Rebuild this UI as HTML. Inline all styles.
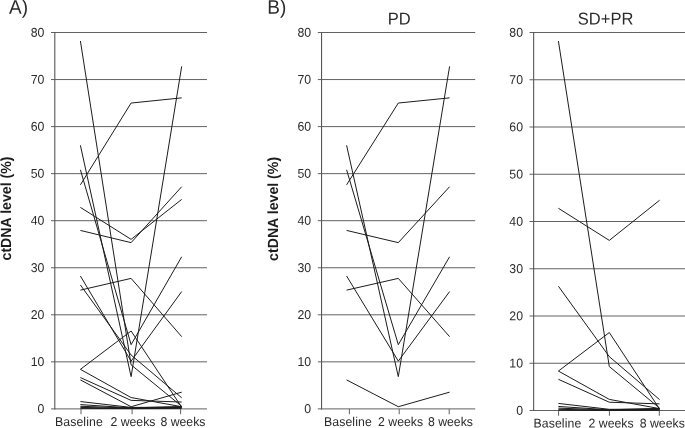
<!DOCTYPE html>
<html lang="en">
<head>
<meta charset="utf-8">
<title>ctDNA level</title>
<style>
html,body{margin:0;padding:0;background:#fff;}
body{width:685px;height:428px;overflow:hidden;}
svg{display:block;font-family:"Liberation Sans",Arial,Helvetica,sans-serif;will-change:transform;transform:translateZ(0);text-rendering:geometricPrecision;}
</style>
</head>
<body>
<svg width="685" height="428" viewBox="0 0 685 428">
<rect x="0" y="0" width="685" height="428" fill="#ffffff"/>
<line x1="51.00" y1="32.50" x2="207.00" y2="32.50" stroke="#626262" stroke-width="1"/>
<text transform="translate(44.40,36.65) rotate(0.03) scale(1,1.04)" font-size="12.3" text-anchor="end" fill="#2b2b2b">80</text>
<line x1="51.00" y1="79.55" x2="207.00" y2="79.55" stroke="#626262" stroke-width="1"/>
<text transform="translate(44.40,83.70) rotate(0.03) scale(1,1.04)" font-size="12.3" text-anchor="end" fill="#2b2b2b">70</text>
<line x1="51.00" y1="126.60" x2="207.00" y2="126.60" stroke="#626262" stroke-width="1"/>
<text transform="translate(44.40,130.75) rotate(0.03) scale(1,1.04)" font-size="12.3" text-anchor="end" fill="#2b2b2b">60</text>
<line x1="51.00" y1="173.65" x2="207.00" y2="173.65" stroke="#626262" stroke-width="1"/>
<text transform="translate(44.40,177.80) rotate(0.03) scale(1,1.04)" font-size="12.3" text-anchor="end" fill="#2b2b2b">50</text>
<line x1="51.00" y1="220.70" x2="207.00" y2="220.70" stroke="#626262" stroke-width="1"/>
<text transform="translate(44.40,224.85) rotate(0.03) scale(1,1.04)" font-size="12.3" text-anchor="end" fill="#2b2b2b">40</text>
<line x1="51.00" y1="267.75" x2="207.00" y2="267.75" stroke="#626262" stroke-width="1"/>
<text transform="translate(44.40,271.90) rotate(0.03) scale(1,1.04)" font-size="12.3" text-anchor="end" fill="#2b2b2b">30</text>
<line x1="51.00" y1="314.80" x2="207.00" y2="314.80" stroke="#626262" stroke-width="1"/>
<text transform="translate(44.40,318.95) rotate(0.03) scale(1,1.04)" font-size="12.3" text-anchor="end" fill="#2b2b2b">20</text>
<line x1="51.00" y1="361.85" x2="207.00" y2="361.85" stroke="#626262" stroke-width="1"/>
<text transform="translate(44.40,366.00) rotate(0.03) scale(1,1.04)" font-size="12.3" text-anchor="end" fill="#2b2b2b">10</text>
<line x1="51.00" y1="408.90" x2="207.00" y2="408.90" stroke="#626262" stroke-width="1"/>
<text transform="translate(44.40,413.05) rotate(0.03) scale(1,1.04)" font-size="12.3" text-anchor="end" fill="#2b2b2b">0</text>
<line x1="54.80" y1="32.00" x2="54.80" y2="409.40" stroke="#565656" stroke-width="1.1"/>
<line x1="81.00" y1="408.90" x2="81.00" y2="414.20" stroke="#626262" stroke-width="1"/>
<line x1="132.10" y1="408.90" x2="132.10" y2="414.20" stroke="#626262" stroke-width="1"/>
<line x1="180.60" y1="408.90" x2="180.60" y2="414.20" stroke="#626262" stroke-width="1"/>
<text transform="translate(55.00,426.00) rotate(0.03) scale(1,1.04)" font-size="12.3" letter-spacing="0.08" fill="#2b2b2b">Baseline</text>
<text transform="translate(110.40,426.00) rotate(0.03) scale(1,1.04)" font-size="12.3" fill="#2b2b2b">2 weeks</text>
<text transform="translate(160.40,426.00) rotate(0.03) scale(1,1.04)" font-size="12.3" fill="#2b2b2b">8 weeks</text>
<polyline points="80.40,184.83 131.10,103.04 181.70,97.86" fill="none" stroke="#1c1c1c" stroke-width="1" stroke-linejoin="miter"/>
<polyline points="80.40,145.34 131.10,376.63 181.70,66.37" fill="none" stroke="#1c1c1c" stroke-width="1" stroke-linejoin="miter"/>
<polyline points="80.40,169.79 131.10,344.67 181.70,256.76" fill="none" stroke="#1c1c1c" stroke-width="1" stroke-linejoin="miter"/>
<polyline points="80.40,230.43 131.10,242.65 181.70,186.71" fill="none" stroke="#1c1c1c" stroke-width="1" stroke-linejoin="miter"/>
<polyline points="80.40,276.03 131.10,361.12 181.70,291.55" fill="none" stroke="#1c1c1c" stroke-width="1" stroke-linejoin="miter"/>
<polyline points="80.40,290.13 131.10,278.38 181.70,336.67" fill="none" stroke="#1c1c1c" stroke-width="1" stroke-linejoin="miter"/>
<polyline points="80.40,379.92 131.10,406.72 181.70,392.15" fill="none" stroke="#1c1c1c" stroke-width="1" stroke-linejoin="miter"/>
<polyline points="80.40,40.98 131.10,364.88 181.70,406.25" fill="none" stroke="#1c1c1c" stroke-width="1" stroke-linejoin="miter"/>
<polyline points="80.40,207.40 131.10,239.36 181.70,199.41" fill="none" stroke="#1c1c1c" stroke-width="1" stroke-linejoin="miter"/>
<polyline points="80.40,284.96 131.10,355.01 181.70,397.79" fill="none" stroke="#1c1c1c" stroke-width="1" stroke-linejoin="miter"/>
<polyline points="80.40,369.35 131.10,331.03 181.70,407.19" fill="none" stroke="#1c1c1c" stroke-width="1" stroke-linejoin="miter"/>
<polyline points="80.40,369.35 131.10,397.55 181.70,406.72" fill="none" stroke="#1c1c1c" stroke-width="1" stroke-linejoin="miter"/>
<polyline points="80.40,377.57 131.10,400.37 181.70,402.02" fill="none" stroke="#1c1c1c" stroke-width="1" stroke-linejoin="miter"/>
<polyline points="80.40,401.55 131.10,407.42 181.70,407.19" fill="none" stroke="#1c1c1c" stroke-width="1" stroke-linejoin="miter"/>
<polyline points="80.40,404.60 131.10,407.89 181.70,406.48" fill="none" stroke="#1c1c1c" stroke-width="1" stroke-linejoin="miter"/>
<polyline points="80.40,406.25 131.10,408.13 181.70,407.89" fill="none" stroke="#1c1c1c" stroke-width="1" stroke-linejoin="miter"/>
<polyline points="80.40,407.42 131.10,408.36 181.70,407.42" fill="none" stroke="#1c1c1c" stroke-width="1" stroke-linejoin="miter"/>
<polyline points="80.40,408.36 131.10,408.60 181.70,408.36" fill="none" stroke="#1c1c1c" stroke-width="1" stroke-linejoin="miter"/>
<line x1="317.80" y1="32.50" x2="475.20" y2="32.50" stroke="#626262" stroke-width="1"/>
<text transform="translate(311.20,36.65) rotate(0.03) scale(1,1.04)" font-size="12.3" text-anchor="end" fill="#2b2b2b">80</text>
<line x1="317.80" y1="79.55" x2="475.20" y2="79.55" stroke="#626262" stroke-width="1"/>
<text transform="translate(311.20,83.70) rotate(0.03) scale(1,1.04)" font-size="12.3" text-anchor="end" fill="#2b2b2b">70</text>
<line x1="317.80" y1="126.60" x2="475.20" y2="126.60" stroke="#626262" stroke-width="1"/>
<text transform="translate(311.20,130.75) rotate(0.03) scale(1,1.04)" font-size="12.3" text-anchor="end" fill="#2b2b2b">60</text>
<line x1="317.80" y1="173.65" x2="475.20" y2="173.65" stroke="#626262" stroke-width="1"/>
<text transform="translate(311.20,177.80) rotate(0.03) scale(1,1.04)" font-size="12.3" text-anchor="end" fill="#2b2b2b">50</text>
<line x1="317.80" y1="220.70" x2="475.20" y2="220.70" stroke="#626262" stroke-width="1"/>
<text transform="translate(311.20,224.85) rotate(0.03) scale(1,1.04)" font-size="12.3" text-anchor="end" fill="#2b2b2b">40</text>
<line x1="317.80" y1="267.75" x2="475.20" y2="267.75" stroke="#626262" stroke-width="1"/>
<text transform="translate(311.20,271.90) rotate(0.03) scale(1,1.04)" font-size="12.3" text-anchor="end" fill="#2b2b2b">30</text>
<line x1="317.80" y1="314.80" x2="475.20" y2="314.80" stroke="#626262" stroke-width="1"/>
<text transform="translate(311.20,318.95) rotate(0.03) scale(1,1.04)" font-size="12.3" text-anchor="end" fill="#2b2b2b">20</text>
<line x1="317.80" y1="361.85" x2="475.20" y2="361.85" stroke="#626262" stroke-width="1"/>
<text transform="translate(311.20,366.00) rotate(0.03) scale(1,1.04)" font-size="12.3" text-anchor="end" fill="#2b2b2b">10</text>
<line x1="317.80" y1="408.90" x2="475.20" y2="408.90" stroke="#626262" stroke-width="1"/>
<text transform="translate(311.20,413.05) rotate(0.03) scale(1,1.04)" font-size="12.3" text-anchor="end" fill="#2b2b2b">0</text>
<line x1="321.55" y1="32.00" x2="321.55" y2="409.40" stroke="#565656" stroke-width="1.1"/>
<line x1="349.40" y1="408.90" x2="349.40" y2="414.20" stroke="#626262" stroke-width="1"/>
<line x1="399.20" y1="408.90" x2="399.20" y2="414.20" stroke="#626262" stroke-width="1"/>
<line x1="449.20" y1="408.90" x2="449.20" y2="414.20" stroke="#626262" stroke-width="1"/>
<text transform="translate(324.00,426.00) rotate(0.03) scale(1,1.04)" font-size="12.3" letter-spacing="0.08" fill="#2b2b2b">Baseline</text>
<text transform="translate(378.00,426.00) rotate(0.03) scale(1,1.04)" font-size="12.3" fill="#2b2b2b">2 weeks</text>
<text transform="translate(427.90,426.00) rotate(0.03) scale(1,1.04)" font-size="12.3" fill="#2b2b2b">8 weeks</text>
<polyline points="346.60,184.83 398.30,103.04 449.60,97.86" fill="none" stroke="#1c1c1c" stroke-width="1" stroke-linejoin="miter"/>
<polyline points="346.60,145.34 398.30,376.63 449.60,66.37" fill="none" stroke="#1c1c1c" stroke-width="1" stroke-linejoin="miter"/>
<polyline points="346.60,169.79 398.30,344.67 449.60,256.76" fill="none" stroke="#1c1c1c" stroke-width="1" stroke-linejoin="miter"/>
<polyline points="346.60,230.43 398.30,242.65 449.60,186.71" fill="none" stroke="#1c1c1c" stroke-width="1" stroke-linejoin="miter"/>
<polyline points="346.60,276.03 398.30,361.12 449.60,291.55" fill="none" stroke="#1c1c1c" stroke-width="1" stroke-linejoin="miter"/>
<polyline points="346.60,290.13 398.30,278.38 449.60,336.67" fill="none" stroke="#1c1c1c" stroke-width="1" stroke-linejoin="miter"/>
<polyline points="346.60,379.92 398.30,406.72 449.60,392.15" fill="none" stroke="#1c1c1c" stroke-width="1" stroke-linejoin="miter"/>
<text transform="translate(399.20,24.40) rotate(0.03) scale(1,1.04)" font-size="16.5" text-anchor="middle" fill="#2b2b2b">PD</text>
<line x1="529.50" y1="32.50" x2="685.00" y2="32.50" stroke="#626262" stroke-width="1"/>
<text transform="translate(523.00,36.65) rotate(0.03) scale(1,1.04)" font-size="12.3" text-anchor="end" fill="#2b2b2b">80</text>
<line x1="529.50" y1="79.75" x2="685.00" y2="79.75" stroke="#626262" stroke-width="1"/>
<text transform="translate(523.00,83.90) rotate(0.03) scale(1,1.04)" font-size="12.3" text-anchor="end" fill="#2b2b2b">70</text>
<line x1="529.50" y1="127.00" x2="685.00" y2="127.00" stroke="#626262" stroke-width="1"/>
<text transform="translate(523.00,131.15) rotate(0.03) scale(1,1.04)" font-size="12.3" text-anchor="end" fill="#2b2b2b">60</text>
<line x1="529.50" y1="174.25" x2="685.00" y2="174.25" stroke="#626262" stroke-width="1"/>
<text transform="translate(523.00,178.40) rotate(0.03) scale(1,1.04)" font-size="12.3" text-anchor="end" fill="#2b2b2b">50</text>
<line x1="529.50" y1="221.50" x2="685.00" y2="221.50" stroke="#626262" stroke-width="1"/>
<text transform="translate(523.00,225.65) rotate(0.03) scale(1,1.04)" font-size="12.3" text-anchor="end" fill="#2b2b2b">40</text>
<line x1="529.50" y1="268.75" x2="685.00" y2="268.75" stroke="#626262" stroke-width="1"/>
<text transform="translate(523.00,272.90) rotate(0.03) scale(1,1.04)" font-size="12.3" text-anchor="end" fill="#2b2b2b">30</text>
<line x1="529.50" y1="316.00" x2="685.00" y2="316.00" stroke="#626262" stroke-width="1"/>
<text transform="translate(523.00,320.15) rotate(0.03) scale(1,1.04)" font-size="12.3" text-anchor="end" fill="#2b2b2b">20</text>
<line x1="529.50" y1="363.25" x2="685.00" y2="363.25" stroke="#626262" stroke-width="1"/>
<text transform="translate(523.00,367.40) rotate(0.03) scale(1,1.04)" font-size="12.3" text-anchor="end" fill="#2b2b2b">10</text>
<line x1="529.50" y1="410.50" x2="685.00" y2="410.50" stroke="#626262" stroke-width="1"/>
<text transform="translate(523.00,414.65) rotate(0.03) scale(1,1.04)" font-size="12.3" text-anchor="end" fill="#2b2b2b">0</text>
<line x1="533.65" y1="32.00" x2="533.65" y2="411.00" stroke="#565656" stroke-width="1.1"/>
<line x1="558.60" y1="410.50" x2="558.60" y2="415.80" stroke="#626262" stroke-width="1"/>
<line x1="609.40" y1="410.50" x2="609.40" y2="415.80" stroke="#626262" stroke-width="1"/>
<line x1="659.30" y1="410.50" x2="659.30" y2="415.80" stroke="#626262" stroke-width="1"/>
<text transform="translate(533.50,427.50) rotate(0.03) scale(1,1.04)" font-size="12.3" letter-spacing="0.08" fill="#2b2b2b">Baseline</text>
<text transform="translate(588.50,427.50) rotate(0.03) scale(1,1.04)" font-size="12.3" fill="#2b2b2b">2 weeks</text>
<text transform="translate(639.70,427.50) rotate(0.03) scale(1,1.04)" font-size="12.3" fill="#2b2b2b">8 weeks</text>
<polyline points="558.40,41.00 609.30,366.56 659.60,408.14" fill="none" stroke="#1c1c1c" stroke-width="1" stroke-linejoin="miter"/>
<polyline points="558.40,208.27 609.30,240.40 659.60,200.24" fill="none" stroke="#1c1c1c" stroke-width="1" stroke-linejoin="miter"/>
<polyline points="558.40,286.23 609.30,356.63 659.60,399.63" fill="none" stroke="#1c1c1c" stroke-width="1" stroke-linejoin="miter"/>
<polyline points="558.40,371.05 609.30,332.54 659.60,409.08" fill="none" stroke="#1c1c1c" stroke-width="1" stroke-linejoin="miter"/>
<polyline points="558.40,371.05 609.30,399.40 659.60,408.61" fill="none" stroke="#1c1c1c" stroke-width="1" stroke-linejoin="miter"/>
<polyline points="558.40,379.31 609.30,402.23 659.60,403.88" fill="none" stroke="#1c1c1c" stroke-width="1" stroke-linejoin="miter"/>
<polyline points="558.40,403.41 609.30,409.32 659.60,409.08" fill="none" stroke="#1c1c1c" stroke-width="1" stroke-linejoin="miter"/>
<polyline points="558.40,406.48 609.30,409.79 659.60,408.37" fill="none" stroke="#1c1c1c" stroke-width="1" stroke-linejoin="miter"/>
<polyline points="558.40,408.14 609.30,410.03 659.60,409.79" fill="none" stroke="#1c1c1c" stroke-width="1" stroke-linejoin="miter"/>
<polyline points="558.40,409.32 609.30,410.26 659.60,409.32" fill="none" stroke="#1c1c1c" stroke-width="1" stroke-linejoin="miter"/>
<polyline points="558.40,410.26 609.30,410.50 659.60,410.26" fill="none" stroke="#1c1c1c" stroke-width="1" stroke-linejoin="miter"/>
<text transform="translate(605.60,24.40) rotate(0.03) scale(1,1.04)" font-size="16.5" text-anchor="middle" fill="#2b2b2b">SD+PR</text>
<text transform="translate(10.70,208.50) rotate(-90) scale(1,1.04)" font-size="14.15" text-anchor="middle" font-weight="bold" fill="#1c1c1c">ctDNA level (%)</text>
<text transform="translate(278.30,208.90) rotate(-90) scale(1,1.04)" font-size="14.15" text-anchor="middle" font-weight="bold" fill="#1c1c1c">ctDNA level (%)</text>
<text transform="translate(9.10,13.65) rotate(0.03) scale(1,1.04)" font-size="19" fill="#2b2b2b">A)</text>
<text transform="translate(267.30,13.65) rotate(0.03) scale(1,1.04)" font-size="19" fill="#2b2b2b">B)</text>
</svg>
</body>
</html>
